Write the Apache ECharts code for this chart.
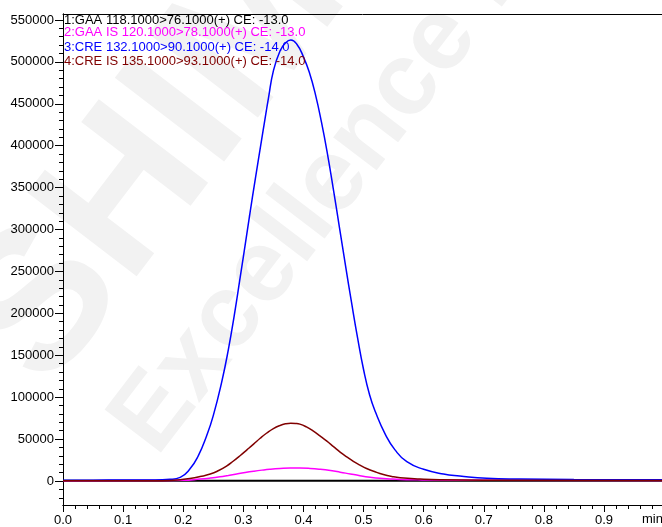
<!DOCTYPE html>
<html>
<head>
<meta charset="utf-8">
<script src="https://cdn.jsdelivr.net/npm/echarts@6/dist/echarts.min.js"></script>
<style>
  html, body { margin: 0; padding: 0; background: #fff; }
  #chart { width: 662px; height: 527px; }
</style>
</head>
<body>
<div id="chart"></div>
<script>
// MRM chromatogram traces: retention time (min) and intensity
const traceLabels = [
  '1:GAA 118.1000>76.1000(+) CE: -13.0',
  '2:GAA IS 120.1000>78.1000(+) CE: -13.0',
  '3:CRE 132.1000>90.1000(+) CE: -14.0',
  '4:CRE IS 135.1000>93.1000(+) CE: -14.0'
];
const traceColors = ['#000000', '#ff00ff', '#0000ff', '#800000'];

const timeGAA = [0, 0.2, 0.4, 0.6, 0.8, 0.997];
const intensityGAA = [200, 200, 250, 200, 200, 200];

const timeGAAIS = [0, 0.15, 0.2, 0.228, 0.245, 0.261, 0.275, 0.289, 0.303, 0.317, 0.331, 0.344, 0.361, 0.378, 0.394, 0.411, 0.428, 0.445, 0.461, 0.478, 0.494, 0.511, 0.527, 0.544, 0.561, 0.59, 0.616, 0.7, 0.997];
const intensityGAAIS = [400, 500, 900, 2300, 3500, 5000, 6700, 8500, 10200, 11700, 13000, 14000, 14900, 15400, 15400, 15000, 14000, 12500, 10600, 8400, 6400, 4600, 3300, 2500, 1900, 1400, 1100, 800, 700];

const timeCRE = [0, 0.05, 0.1, 0.15, 0.178, 0.195, 0.211, 0.225, 0.239, 0.25, 0.264, 0.275, 0.285, 0.295, 0.305, 0.315, 0.325, 0.333, 0.342, 0.35, 0.361, 0.37, 0.379, 0.389, 0.4, 0.41, 0.42, 0.43, 0.44, 0.45, 0.46, 0.47, 0.48, 0.49, 0.5, 0.51, 0.52, 0.536, 0.552, 0.572, 0.6, 0.633, 0.66, 0.705, 0.76, 0.85, 0.997];
const intensityCRE = [800, 1000, 1200, 1300, 2000, 4400, 14250, 30000, 54000, 78000, 118000, 156500, 198000, 244000, 291000, 338000, 383000, 418500, 457600, 489300, 513000, 522500, 526000, 521000, 506000, 487000, 461000, 428000, 390000, 347000, 302000, 257000, 213000, 171000, 133000, 103000, 82000, 56000, 37500, 23000, 14000, 8300, 6000, 3300, 2400, 1800, 1500];

const timeCREIS = [0, 0.15, 0.178, 0.195, 0.211, 0.228, 0.245, 0.259, 0.272, 0.283, 0.295, 0.306, 0.317, 0.328, 0.339, 0.35, 0.361, 0.37, 0.379, 0.387, 0.394, 0.405, 0.416, 0.428, 0.439, 0.45, 0.461, 0.472, 0.483, 0.494, 0.505, 0.519, 0.533, 0.547, 0.561, 0.594, 0.627, 0.7, 0.997];
const intensityCREIS = [300, 400, 700, 1600, 3000, 5300, 8300, 12500, 17800, 23600, 30500, 37200, 44000, 51000, 57300, 62600, 66300, 68200, 68900, 68700, 67900, 64500, 59700, 53500, 47500, 41000, 34500, 28800, 23500, 19000, 15000, 11000, 7700, 5400, 3900, 2400, 1500, 900, 600];

const yMajorTicks = [0, 50000, 100000, 150000, 200000, 250000, 300000, 350000, 400000, 450000, 500000, 550000];

const traces = [
  [timeGAA, intensityGAA],
  [timeGAAIS, intensityGAAIS],
  [timeCRE, intensityCRE],
  [timeCREIS, intensityCREIS]
];

const yMin = -28600, yMax = 557100;
const xMax = 0.9965;
const yMinorTicks = [];
for (let v = -20000; v <= 550000; v += 10000) yMinorTicks.push(v);

const FONT = '"Liberation Sans", Arial, sans-serif';
const deg = Math.PI / 180;

const chart = echarts.init(document.getElementById('chart'), null, { renderer: 'canvas' });

const seriesList = traces.map((t, i) => ({
  name: traceLabels[i],
  type: 'line',
  xAxisIndex: 0,
  yAxisIndex: 0,
  showSymbol: false,
  smooth: 0.5,
  clip: true,
  lineStyle: { color: traceColors[i], width: i === 0 ? 2 : 1.5 },
  itemStyle: { color: traceColors[i] },
  data: t[0].map((x, k) => [x, t[1][k]]),
  z: 3 + i
}));

const labelRows = [21, 33.5, 48, 62.5];
const blackLine = { color: '#000', width: 1 };

chart.setOption({
  animation: false,
  backgroundColor: '#ffffff',
  grid: { left: 63, right: 0, top: 14, bottom: 21, containLabel: false },
  xAxis: [{
    type: 'value', min: 0, max: xMax, interval: 0.1, position: 'bottom',
    axisLine: { show: true, onZero: false, lineStyle: blackLine },
    axisTick: { show: true, length: 7, lineStyle: { color: '#000' } },
    axisLabel: {
      color: '#000', fontFamily: FONT, fontSize: 13, margin: 9,
      showMaxLabel: false,
      formatter: v => (v > 0.95 ? '' : v.toFixed(1))
    },
    splitLine: { show: false }
  }, {
    // minor time ticks
    type: 'value', min: 0, max: xMax, interval: 0.02, position: 'bottom',
    axisLine: { show: true, onZero: false, lineStyle: blackLine },
    axisTick: { show: true, length: 4, lineStyle: { color: '#000' } },
    axisLabel: { show: false },
    splitLine: { show: false }
  }, {
    // top frame line
    type: 'value', min: 0, max: xMax, position: 'top',
    axisLine: { show: true, onZero: false, lineStyle: blackLine },
    axisTick: { show: false }, axisLabel: { show: false }, splitLine: { show: false }
  }],
  yAxis: [{
    type: 'value', min: yMin, max: yMax, position: 'left',
    axisLine: { show: true, onZero: false, lineStyle: blackLine },
    axisTick: { show: true, length: 8, customValues: yMajorTicks, lineStyle: { color: '#000' } },
    axisLabel: {
      color: '#000', fontFamily: FONT, fontSize: 13, margin: 9,
      customValues: yMajorTicks, formatter: v => String(v)
    },
    splitLine: { show: false }
  }, {
    // minor intensity ticks
    type: 'value', min: yMin, max: yMax, position: 'left', offset: 0,
    axisLine: { show: true, onZero: false, lineStyle: blackLine },
    axisTick: { show: true, length: 4, customValues: yMinorTicks, lineStyle: { color: '#000' } },
    axisLabel: { show: true, customValues: yMinorTicks, formatter: () => '' },
    splitLine: { show: false }
  }],
  graphic: [
    {
      type: 'group', z: -10, silent: true,
      children: [
        {
          type: 'text', x: 83, y: 420, rotation: 52.6 * deg,
          style: { text: 'SHIMADZU', fill: '#f2f2f2', font: 'bold 200px ' + FONT, textAlign: 'left', textVerticalAlign: 'bottom' }
        },
        {
          type: 'text', x: 175, y: 472, rotation: 52.6 * deg,
          style: { text: 'Excellence in Science', fill: '#f2f2f2', font: 'bold 103px ' + FONT, textAlign: 'left', textVerticalAlign: 'bottom' }
        }
      ]
    },
    ...traceLabels.map((txt, i) => ({
      type: 'text', left: 64, top: labelRows[i] - 7.5, z: 20,
      style: { text: txt, fill: traceColors[i], font: '13px ' + FONT }
    })),
    {
      type: 'text', left: 642, top: 513, z: 20,
      style: { text: 'min', fill: '#000', font: '13px ' + FONT }
    }
  ],
  series: seriesList
});
</script>
</body>
</html>
